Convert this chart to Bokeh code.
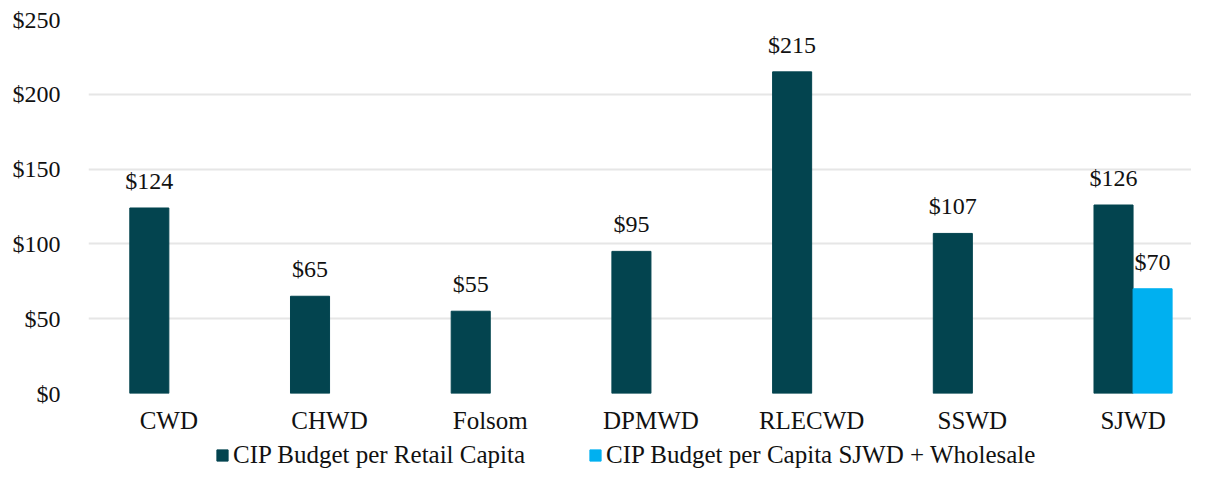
from bokeh.plotting import figure
from bokeh.models import ColumnDataSource, Range1d, NumeralTickFormatter, Legend, LegendItem, FixedTicker
from bokeh.layouts import column
from bokeh.core.properties import value
from bokeh.embed import file_html
from bokeh.resources import INLINE

categories = ["CWD", "CHWD", "Folsom", "DPMWD", "RLECWD", "SSWD", "SJWD"]
retail_per_capita = [124, 65, 55, 95, 215, 107, 126]
wholesale_categories = ["SJWD"]
wholesale_per_capita = [70]
series_names = ["CIP Budget per Retail Capita", "CIP Budget per Capita SJWD + Wholesale"]
y_ticks = [0, 50, 100, 150, 200, 250]

FONT = "Liberation Serif"
DARK = "#03444F"
BLUE = "#00B0F0"
TXT = "#111111"
W = 1191
LEFT = 88
CAT_PX = 160.7          # pixel width of one category slot
bw = 0.243              # bar width (fraction of a category slot)

idx = {c: i for i, c in enumerate(categories)}
x1 = [idx[c] - bw / 2 for c in categories]
x2 = [idx[c] + bw / 2 for c in wholesale_categories]

src1 = ColumnDataSource(dict(x=x1, top=retail_per_capita,
                             lbl=["$%d" % v for v in retail_per_capita]))
src2 = ColumnDataSource(dict(x=x2, top=wholesale_per_capita,
                             lbl=["$%d" % v for v in wholesale_per_capita]))

x_end = -0.5 + (W - LEFT) / CAT_PX
p = figure(x_range=Range1d(-0.5, x_end), y_range=Range1d(0, 250),
           width=W, height=439, output_backend="svg", toolbar_location=None,
           min_border_left=LEFT, min_border_right=0, min_border_top=19, min_border_bottom=46)
p.outline_line_color = None
p.background_fill_color = "white"

p.vbar(x="x", top="top", width=bw, source=src1, fill_color=DARK, line_color=DARK)
p.vbar(x="x", top="top", width=bw, source=src2, fill_color=BLUE, line_color=BLUE)

for src in (src1, src2):
    p.text(x="x", y="top", text="lbl", source=src,
           text_align="center", text_baseline="alphabetic", y_offset=-27,
           text_font=value(FONT), text_font_size="24px", text_color=TXT)

p.xgrid.grid_line_color = None
p.ygrid.grid_line_color = "#E6E6E6"
p.ygrid.grid_line_width = 2
p.yaxis.ticker = FixedTicker(ticks=y_ticks)
p.yaxis.formatter = NumeralTickFormatter(format="$0")
p.xaxis.ticker = FixedTicker(ticks=list(range(len(categories))))
p.xaxis.major_label_overrides = {i: c for i, c in enumerate(categories)}
for ax in (p.xaxis[0], p.yaxis[0]):
    ax.axis_line_color = None
    ax.major_tick_line_color = None
    ax.minor_tick_line_color = None
    ax.major_label_text_font = FONT
    ax.major_label_text_color = TXT
p.yaxis.major_label_text_font_size = "24px"
p.xaxis.major_label_text_font_size = "25px"
p.yaxis.major_label_standoff = 22
p.xaxis.major_label_standoff = 7

# legend strip: series renderers share the data but are hidden (legend still draws their swatch)
lg = figure(width=W, height=30, output_backend="svg", toolbar_location=None,
            x_range=Range1d(-0.5, x_end), y_range=Range1d(0, 250),
            min_border=0, min_border_left=0, min_border_right=0, min_border_top=0, min_border_bottom=0)
lg.outline_line_color = None
lg.axis.visible = False
lg.grid.visible = False
d1 = lg.vbar(x="x", top="top", width=bw, source=src1, fill_color=DARK, line_color=DARK)
d2 = lg.vbar(x="x", top="top", width=bw, source=src2, fill_color=BLUE, line_color=BLUE)
d1.visible = False
d2.visible = False
legend = Legend(items=[LegendItem(label=series_names[0], renderers=[d1]),
                       LegendItem(label=series_names[1], renderers=[d2])],
                orientation="horizontal", location=(215 - LEFT, 0), click_policy="none",
                inactive_fill_alpha=0,
                label_text_font=FONT, label_text_font_size="25px", label_text_color=TXT,
                glyph_width=14, glyph_height=14, spacing=63, label_standoff=4,
                border_line_color=None, background_fill_alpha=0, padding=0, margin=0)
lg.add_layout(legend, "center")

layout = column(p, lg, spacing=0)
open("out.html", "w").write(file_html(layout, INLINE))
